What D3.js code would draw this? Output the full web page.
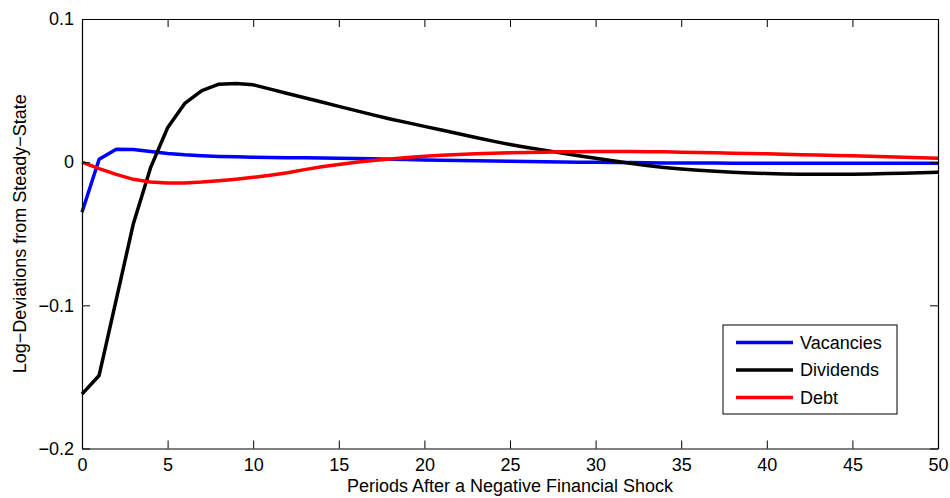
<!DOCTYPE html>
<html>
<head>
<meta charset="utf-8">
<script src="https://cdn.jsdelivr.net/npm/d3@7"></script>
<style>
    body { margin: 0; background: #fff; }
    svg { display: block; font-family: "Liberation Sans", Arial, Helvetica, sans-serif; }
</style>
</head>
<body>
<svg id="chart" width="950" height="498"></svg>
<script>
const periods = [0, 1, 2, 3, 4, 5, 6, 7, 8, 9, 10, 11, 12, 13, 14, 15, 16, 17, 18, 19, 20,
    21, 22, 23, 24, 25, 26, 27, 28, 29, 30, 31, 32, 33, 34, 35, 36, 37, 38, 39, 40,
    41, 42, 43, 44, 45, 46, 47, 48, 49, 50];

const vacancies = [-0.035, 0.002, 0.009, 0.0089, 0.0074, 0.0061, 0.0051, 0.0045, 0.0040, 0.0037, 0.0035,
    0.0033, 0.0031, 0.0030, 0.0029, 0.0027, 0.0025, 0.0023, 0.0021, 0.0019, 0.0016,
    0.0014, 0.0012, 0.0010, 0.0008, 0.0006, 0.0005, 0.0003, 0.0002, 0.0000, -0.0001,
    -0.0002, -0.0003, -0.0004, -0.0005, -0.0005, -0.0006, -0.0006, -0.0007, -0.0007, -0.0007,
    -0.0007, -0.0007, -0.0007, -0.0007, -0.0007, -0.0007, -0.0007, -0.0007, -0.0007, -0.0007];

const dividends = [-0.162, -0.149, -0.096, -0.043, -0.004, 0.024, 0.041, 0.050, 0.0545, 0.055, 0.054,
    0.051, 0.048, 0.045, 0.042, 0.039, 0.036, 0.033, 0.0302, 0.0276, 0.025,
    0.0225, 0.0198, 0.0172, 0.0147, 0.0124, 0.0103, 0.0084, 0.0064, 0.0045, 0.0027,
    0.0010, -0.0008, -0.0024, -0.0037, -0.0048, -0.0057, -0.0064, -0.0070, -0.0075, -0.0079,
    -0.0082, -0.0084, -0.0085, -0.0085, -0.0085, -0.0083, -0.0080, -0.0077, -0.0074, -0.0070];

const debt = [0, -0.0045, -0.0085, -0.0120, -0.0138, -0.0146, -0.0145, -0.0139, -0.0130, -0.0119, -0.0106,
    -0.0091, -0.0074, -0.0052, -0.0032, -0.0016, 0.0000, 0.0012, 0.0022, 0.0032, 0.0042,
    0.0049, 0.0054, 0.0058, 0.0062, 0.0065, 0.0068, 0.0070, 0.0072, 0.0073, 0.0074,
    0.0074, 0.0074, 0.0073, 0.0072, 0.0070, 0.0068, 0.0066, 0.0063, 0.0061, 0.0058,
    0.0055, 0.0052, 0.0050, 0.0047, 0.0044, 0.0041, 0.0038, 0.0035, 0.0031, 0.0028];

const seriesNames = ["Vacancies", "Dividends", "Debt"];
const seriesColors = ["#0000ff", "#000000", "#ff0000"];

const xTicks = [0, 5, 10, 15, 20, 25, 30, 35, 40, 45, 50];
const yTicks = [-0.2, -0.1, 0, 0.1];
const yTickLabels = ["\u22120.2", "\u22120.1", "0", "0.1"];

const xTitle = "Periods After a Negative Financial Shock";
const yTitle = "Log\u2212Deviations from Steady\u2212State";

document.addEventListener("DOMContentLoaded", function() {
    drawChart();
});

function drawChart() {
    const svg = d3.select("#chart");
    const area = { left: 82, top: 19, right: 938, bottom: 448.5 };
    const fontSize = 18;

    const scX = d3.scaleLinear().domain([0, 50]).range([area.left, area.right]);
    const scY = d3.scaleLinear().domain([-0.2, 0.1]).range([area.bottom, area.top]);

    // white plot box
    svg.append("rect")
        .attr("x", area.left).attr("y", area.top)
        .attr("width", area.right - area.left)
        .attr("height", area.bottom - area.top)
        .attr("fill", "#fff");

    const allSeries = [vacancies, dividends, debt];
    const line = d3.line()
        .x((d, i) => scX(periods[i]))
        .y(d => scY(d));

    allSeries.forEach((s, k) => {
        svg.append("path")
            .datum(s)
            .attr("d", line)
            .attr("fill", "none")
            .attr("stroke", seriesColors[k])
            .attr("stroke-width", 3.5)
            .attr("stroke-linejoin", "round");
    });

    // axes, ticks pointing inward like matlab
    const axisB = d3.axisBottom(scX).tickValues(xTicks).tickFormat(d3.format("d"))
        .tickSizeInner(-8).tickSizeOuter(0).tickPadding(10);
    const axisT = d3.axisTop(scX).tickValues(xTicks).tickFormat("")
        .tickSizeInner(-8).tickSizeOuter(0);
    const axisL = d3.axisLeft(scY).tickValues(yTicks).tickFormat((d, i) => yTickLabels[i])
        .tickSizeInner(-8).tickSizeOuter(0).tickPadding(8);
    const axisR = d3.axisRight(scY).tickValues(yTicks).tickFormat("")
        .tickSizeInner(-8).tickSizeOuter(0);

    const gB = svg.append("g").attr("transform", `translate(0, ${area.bottom})`).call(axisB);
    const gT = svg.append("g").attr("transform", `translate(0, ${area.top})`).call(axisT);
    const gL = svg.append("g").attr("transform", `translate(${area.left}, 0)`).call(axisL);
    const gR = svg.append("g").attr("transform", `translate(${area.right}, 0)`).call(axisR);

    [gB, gT, gL, gR].forEach(g => {
        g.select(".domain").attr("stroke", "#000").attr("stroke-width", 1.2);
        g.selectAll(".tick line").attr("stroke", "#000").attr("stroke-width", 1);
        g.selectAll("text")
            .attr("fill", "#000")
            .style("font-size", fontSize + "px")
            .style("font-family", "'Liberation Sans', Arial, sans-serif");
    });

    // axis titles
    svg.append("text")
        .attr("x", (area.left + area.right) / 2)
        .attr("y", 492)
        .attr("text-anchor", "middle")
        .style("font-size", fontSize + "px")
        .text(xTitle);

    svg.append("text")
        .attr("transform", `translate(26, ${(area.top + area.bottom) / 2}) rotate(-90)`)
        .attr("text-anchor", "middle")
        .style("font-size", fontSize + "px")
        .text(yTitle);

    // legend
    const leg = { x: 723, y: 325, w: 174, h: 89 };
    svg.append("rect")
        .attr("x", leg.x).attr("y", leg.y)
        .attr("width", leg.w).attr("height", leg.h)
        .attr("fill", "#fff")
        .attr("stroke", "#000")
        .attr("stroke-width", 1);

    const rowY = [342.5, 370, 397.5];
    seriesNames.forEach((name, k) => {
        svg.append("line")
            .attr("x1", 736).attr("x2", 793)
            .attr("y1", rowY[k]).attr("y2", rowY[k])
            .attr("stroke", seriesColors[k])
            .attr("stroke-width", 3.5);
        svg.append("text")
            .attr("x", 800)
            .attr("y", rowY[k])
            .attr("dy", "0.35em")
            .style("font-size", fontSize + "px")
            .text(name);
    });
}
</script>
</body>
</html>
